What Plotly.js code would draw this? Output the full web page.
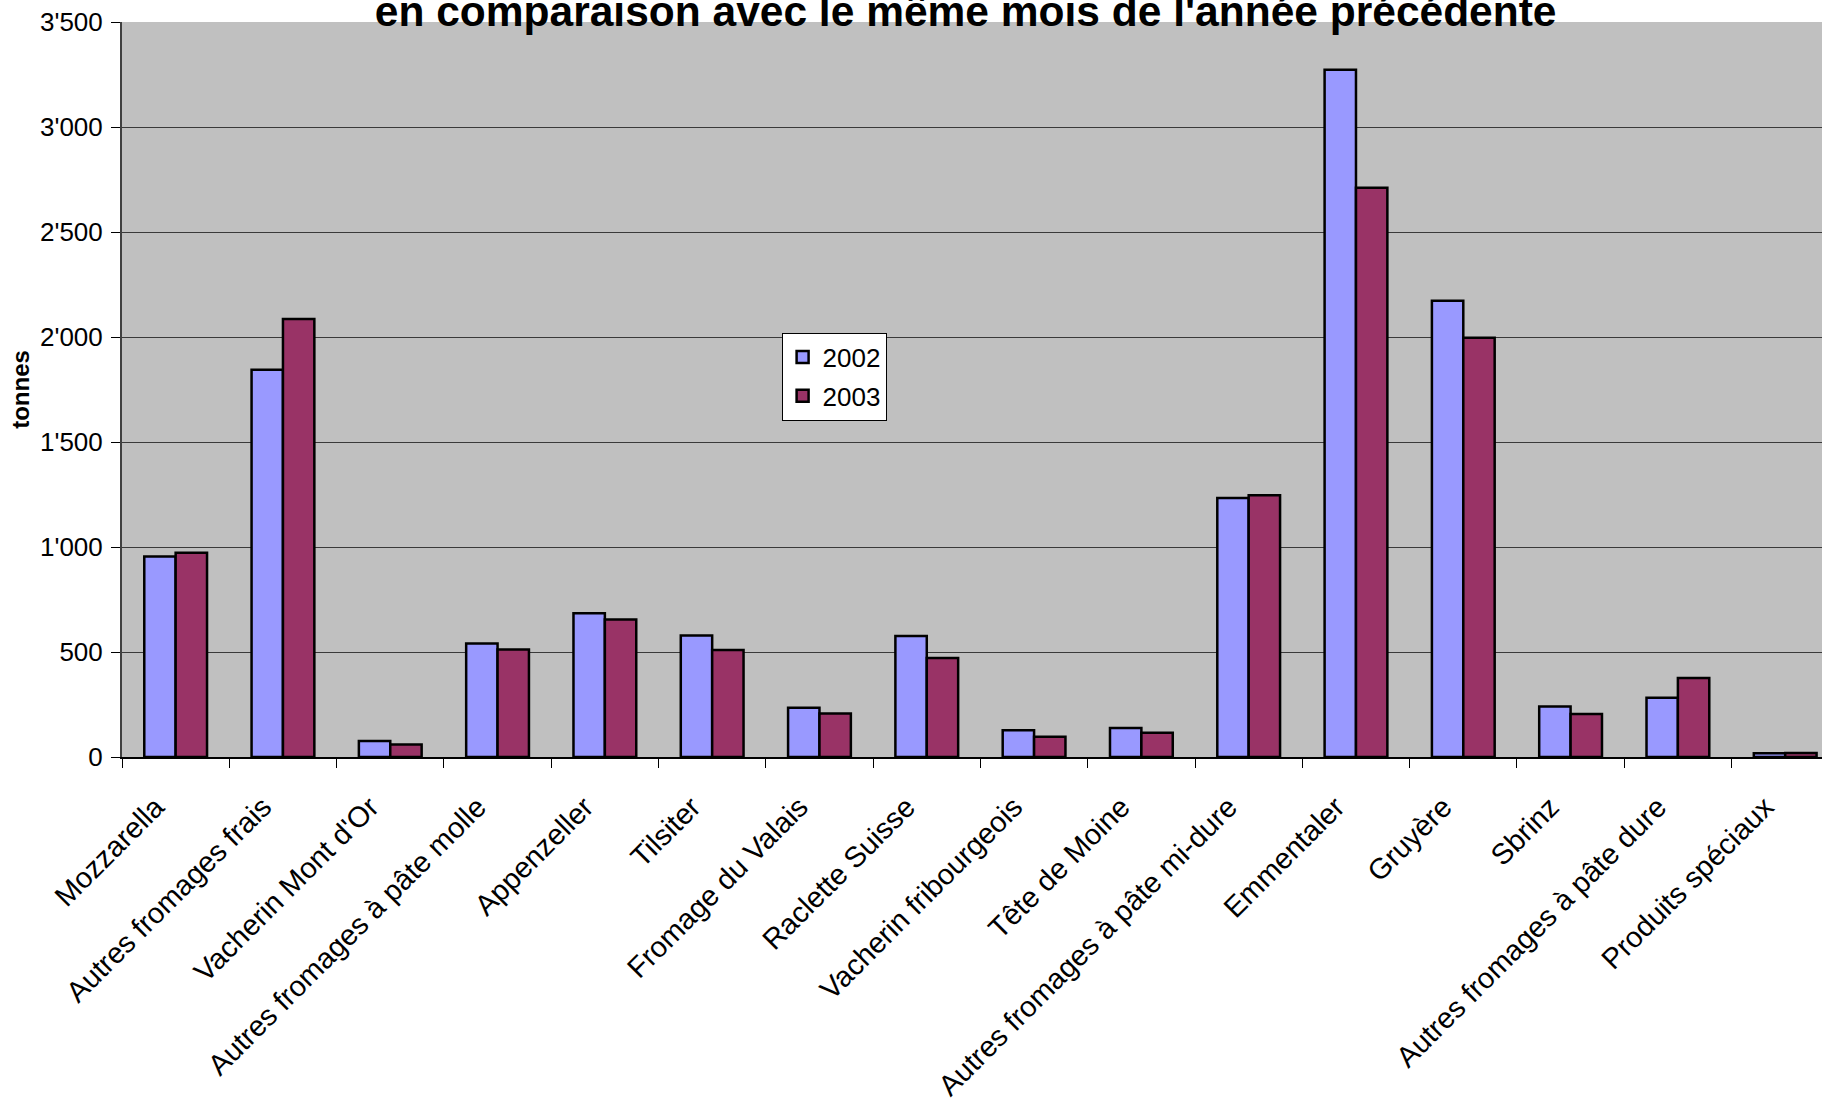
<!DOCTYPE html>
<html>
<head>
<meta charset="utf-8">
<script src="https://cdn.plot.ly/plotly-3.0.1.min.js"></script>
<style>
  html, body { margin: 0; padding: 0; background: #ffffff; }
  #chart { width: 1822px; height: 1099px; }
</style>
</head>
<body>
<div id="chart"></div>
<script>
const categories = [
  "Mozzarella",
  "Autres fromages frais",
  "Vacherin Mont d'Or",
  "Autres fromages à pâte molle",
  "Appenzeller",
  "Tilsiter",
  "Fromage du Valais",
  "Raclette Suisse",
  "Vacherin fribourgeois",
  "Tête de Moine",
  "Autres fromages à pâte mi-dure",
  "Emmentaler",
  "Gruyère",
  "Sbrinz",
  "Autres fromages à pâte dure",
  "Produits spéciaux"
];
const values2002 = [955, 1844, 76, 541, 684, 579, 234, 576, 127, 138, 1233, 3273, 2173, 240, 282, 18];
const values2003 = [973, 2086, 60, 512, 655, 510, 207, 472, 97, 116, 1247, 2711, 1996, 205, 376, 19];
const seriesNames = ["2002", "2003"];
const titleText = "en comparaison avec le même mois de l'année précédente";
const yTitle = "tonnes";

const FONT = "Liberation Sans, Arial, Helvetica, sans-serif";

const traces = [
  {
    type: "bar",
    name: seriesNames[0],
    x: categories,
    y: values2002,
    legendgroup: "a",
    marker: { color: "#9999FF", line: { color: "#000000", width: 2.5 } },
    hoverinfo: "x+y+name"
  },
  {
    type: "bar",
    name: seriesNames[1],
    x: categories,
    y: values2003,
    legendgroup: "b",
    marker: { color: "#993366", line: { color: "#000000", width: 2.5 } },
    hoverinfo: "x+y+name"
  }
];

const layout = {
  width: 1822,
  height: 1099,
  paper_bgcolor: "#ffffff",
  plot_bgcolor: "#C0C0C0",
  separators: ".'",
  font: { family: FONT, color: "#000000", size: 26 },
  margin: { l: 122, r: 0, t: 22, b: 342, pad: 0 },
  barmode: "group",
  bargap: 0.415,
  bargroupgap: 0,
  title: {
    text: "<b>" + titleText + "</b>",
    font: { family: FONT, size: 42.5, color: "#000000" },
    xref: "container",
    yref: "container",
    x: 0.530,
    xanchor: "center",
    y: 0.9765,
    yanchor: "bottom",
    pad: { t: 0, b: 0 }
  },
  showlegend: true,
  legend: {
    x: 0.388,
    y: 0.5774,
    xanchor: "left",
    yanchor: "top",
    bgcolor: "#ffffff",
    bordercolor: "#000000",
    borderwidth: 1,
    font: { family: FONT, size: 26, color: "#000000" },
    traceorder: "grouped",
    tracegroupgap: 2,
    itemwidth: 30
  },
  xaxis: {
    type: "category",
    range: [-0.5, 15.343],
    tickangle: -45,
    tickson: "boundaries",
    ticks: "outside",
    ticklen: 9,
    tickcolor: "#000000",
    tickwidth: 1,
    showline: true,
    linecolor: "#000000",
    linewidth: 1.5,
    showgrid: false,
    zeroline: false,
    tickfont: { family: FONT, size: 29, color: "#000000" },
    ticklabelstandoff: 20,
    ticklabelshift: -20,
    automargin: false,
    fixedrange: true
  },
  yaxis: {
    range: [0, 3500],
    dtick: 500,
    tick0: 0,
    tickformat: ",d",
    ticks: "outside",
    ticklen: 9,
    tickcolor: "#000000",
    tickwidth: 1,
    showline: true,
    linecolor: "#404040",
    linewidth: 2,
    showgrid: true,
    gridcolor: "#3a3a3a",
    gridwidth: 1,
    zeroline: false,
    tickfont: { family: FONT, size: 26, color: "#000000" },
    ticklabelstandoff: 3,
    title: {
      text: "<b>" + yTitle + "</b>",
      font: { family: FONT, size: 24, color: "#000000" },
      standoff: 4
    },
    automargin: false,
    fixedrange: true
  }
};

Plotly.newPlot("chart", traces, layout, { displayModeBar: false, staticPlot: true });
</script>
</body>
</html>
